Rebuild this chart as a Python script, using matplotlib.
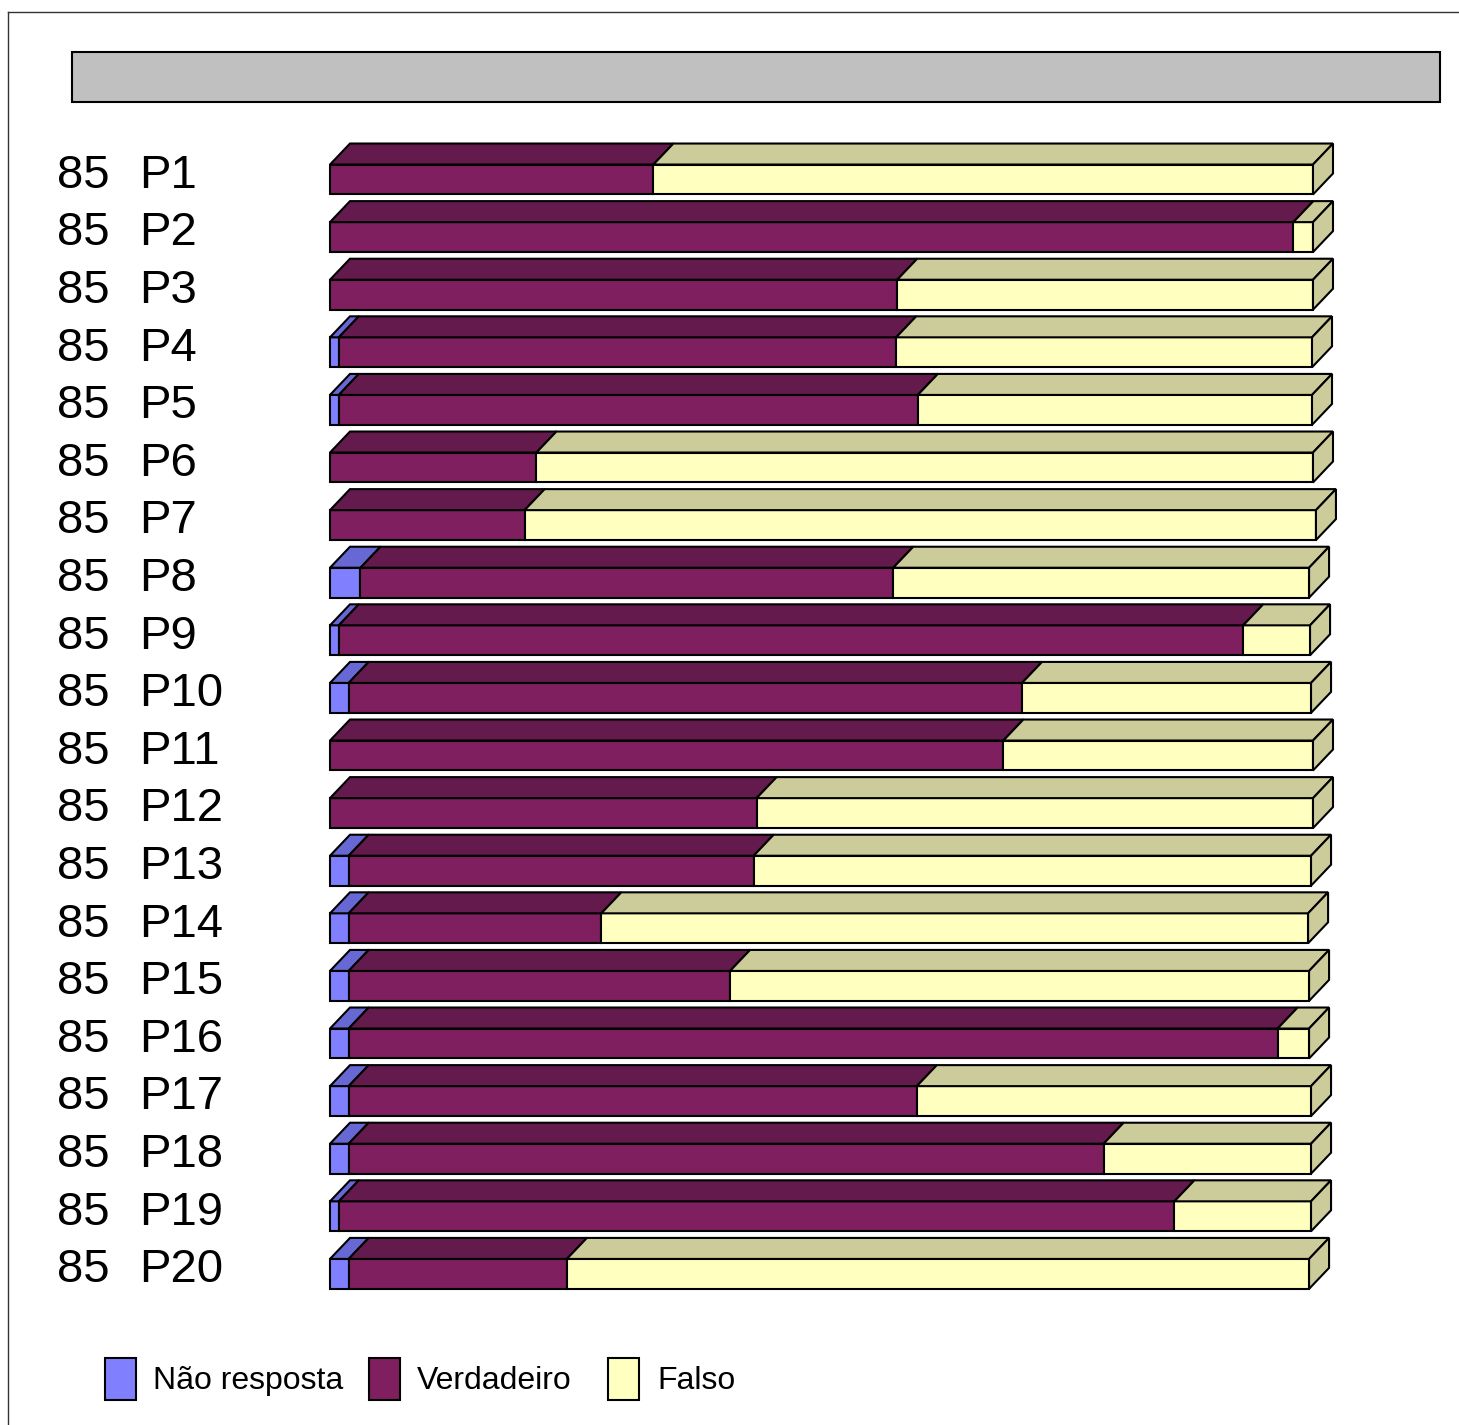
import matplotlib
matplotlib.use("Agg")
import matplotlib.pyplot as plt
from matplotlib.patches import Polygon, Rectangle
from matplotlib.lines import Line2D
from matplotlib.transforms import blended_transform_factory

plt.rcParams['font.family'] = ['Liberation Sans', 'DejaVu Sans']

# ---- data (percent of answers per question) ----
questions = ['P1', 'P2', 'P3', 'P4', 'P5', 'P6', 'P7', 'P8', 'P9', 'P10',
             'P11', 'P12', 'P13', 'P14', 'P15', 'P16', 'P17', 'P18', 'P19', 'P20']
group = ['85'] * 20
series_names = ['Não resposta', 'Verdadeiro', 'Falso']
nao_resposta = [0, 0, 0, 0.9, 0.9, 0, 0, 3.1, 0.9, 1.9,
                0, 0, 1.9, 1.9, 1.9, 1.9, 1.9, 1.9, 0.9, 1.9]
verdadeiro = [32.9, 98.0, 57.7, 56.7, 58.9, 21.0, 19.8, 54.2, 92.0, 68.5,
              68.5, 43.4, 41.2, 25.7, 38.8, 94.5, 57.8, 76.8, 85.0, 22.2]
falso = [67.1, 2.0, 42.3, 42.3, 40.1, 79.0, 80.5, 42.3, 6.8, 29.4,
         31.5, 56.6, 56.7, 71.9, 58.9, 3.2, 40.1, 21.1, 13.9, 75.5]

front_colors = ['#8080FF', '#7F1F5F', '#FFFFC0']
top_colors = ['#6868D4', '#641A4C', '#CCCC9A']

W, H = 1459, 1425
fig = plt.figure(figsize=(W / 100, H / 100), dpi=100)
fig.patch.set_facecolor('white')

def fx(px):
    return px / W

def fy(py):
    return 1 - py / H

# outer frame (left and top edges)
fig.add_artist(Line2D([fx(8), fx(8)], [fy(12), 0], color='#333333', lw=1.0,
                      transform=fig.transFigure))
fig.add_artist(Line2D([fx(8), 1], [fy(12), fy(12)], color='#333333', lw=1.0,
                      transform=fig.transFigure))

# grey title band
fig.add_artist(Rectangle((fx(72), fy(102)), fx(1440) - fx(72), fy(52) - fy(102),
                         facecolor='#C0C0C0', edgecolor='black', lw=1.5,
                         transform=fig.transFigure))

# plotting area: x = 0..100 %, y = question index
ax_left, ax_right = 330, 1313
ax_top, ax_bottom = 150.7, 1302.7
ax = fig.add_axes([fx(ax_left), fy(ax_bottom), fx(ax_right) - fx(ax_left),
                   fy(ax_top) - fy(ax_bottom)])
ax.set_xlim(0, 100)
ax.set_ylim(19.5, -0.5)
ax.axis('off')

bar_h = 0.52
px_per_x = (ax_right - ax_left) / 100.0
px_per_y = (ax_bottom - ax_top) / 20.0
dx = 20 / px_per_x
dy = 21 / px_per_y

values = [nao_resposta, verdadeiro, falso]
n = len(questions)
for i in range(n):
    left = 0.0
    top = i - bar_h / 2
    for k in range(3):
        w = values[k][i]
        if w <= 0:
            continue
        ax.barh(i, w, left=left, height=bar_h, color=front_colors[k],
                edgecolor='black', linewidth=1.5, clip_on=False, zorder=2)
        ax.add_patch(Polygon([(left, top), (left + w, top),
                              (left + w + dx, top - dy), (left + dx, top - dy)],
                             closed=True, facecolor=top_colors[k],
                             edgecolor='black', linewidth=1.5, clip_on=False,
                             zorder=2))
        left += w
    # right side face of the stack
    ax.add_patch(Polygon([(left, top), (left, top + bar_h),
                          (left + dx, top + bar_h - dy), (left + dx, top - dy)],
                         closed=True, facecolor=top_colors[2],
                         edgecolor='black', linewidth=1.5, clip_on=False,
                         zorder=2))

# category labels
lab_tr = blended_transform_factory(fig.transFigure, ax.transData)
for i in range(n):
    ax.text(fx(57), i + 0.145, group[i], transform=lab_tr, fontsize=34,
            va='baseline', ha='left', color='black')
    ax.text(fx(139), i + 0.145, questions[i], transform=lab_tr, fontsize=34,
            va='baseline', ha='left', color='black')

# legend
legend_boxes = [105, 369, 608]
legend_text_x = [153, 417, 657]
for k in range(3):
    fig.add_artist(Rectangle((fx(legend_boxes[k]), fy(1400)), fx(31), fy(1358) - fy(1400),
                             facecolor=front_colors[k], edgecolor='black', lw=1.5,
                             transform=fig.transFigure))
    fig.text(fx(legend_text_x[k]), fy(1389), series_names[k], fontsize=23,
             va='baseline', ha='left', color='black')

fig.savefig('out.png', dpi=100)
